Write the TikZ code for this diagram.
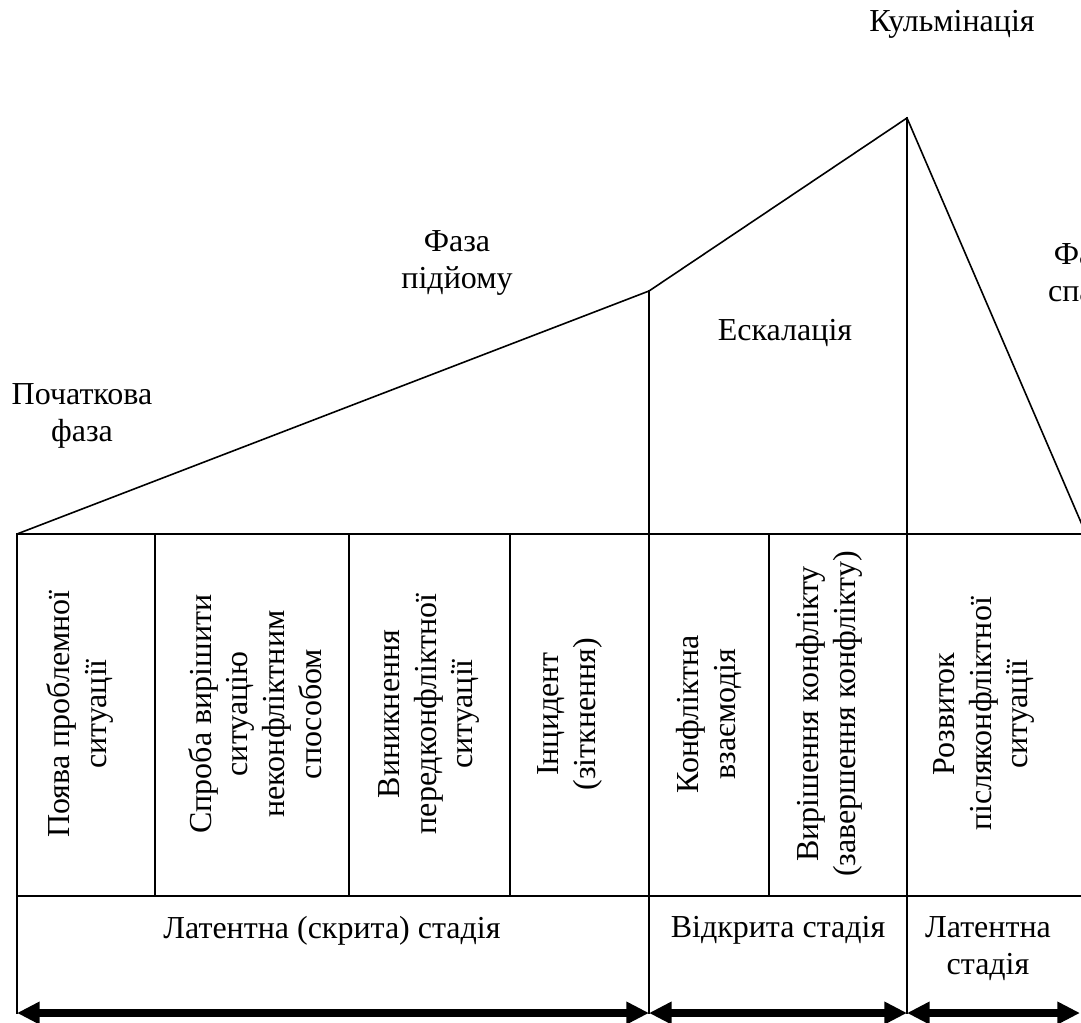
\documentclass[tikz,border=0pt]{standalone}
\usepackage{fontspec}
\setmainfont{Liberation Serif}
\usetikzlibrary{arrows.meta}
\begin{document}
\begin{tikzpicture}[x=0.75pt,y=-0.75pt,
  ln/.style={line width=1.4pt, line cap=rect},
  sl/.style={line width=1.2pt},
  lbl/.style={font=\fontsize{24}{27.6}\selectfont, align=center, inner sep=0pt},
  vlbl/.style={lbl, rotate=90},
  bigarrow/.style={line width=6.5pt, {Triangle[length=17pt,width=16pt]}-{Triangle[length=17pt,width=16pt]}}]
\useasboundingbox (0,0) rectangle (1081,1023);
\clip (0,0) rectangle (1081,1023);
% key points
\coordinate (A) at (17,534);
\coordinate (B) at (649,291);
\coordinate (C) at (907,118);
\coordinate (D) at (1086,534);
\coordinate (TR) at (1100,534);
\coordinate (SL) at (17,896);
\coordinate (SR) at (1100,896);
\coordinate (AL) at (17,1013);
\coordinate (AB) at (649,1013);
\coordinate (AC) at (907,1013);
\coordinate (AR) at (1080,1013);
% profile
\draw[sl] (A) -- (B) -- (C) -- (D);
% table
\draw[ln] (A) -- (TR);
\draw[ln] (SL) -- (SR);
\draw[ln] (A) -- (AL);
\draw[ln] (B) -- (AB);
\draw[ln] (C) -- (AC);
\foreach \x/\n in {155/v1,349/v2,510/v3,769/v4}{
  \coordinate (\n t) at (\x,534);
  \coordinate (\n b) at (\x,896);
  \draw[ln] (\n t) -- (\n b);
}
% arrows
\draw[bigarrow] (AL) -- (AB);
\draw[bigarrow] (AB) -- (AC);
\draw[bigarrow] (AC) -- (AR);
% top labels
\node[lbl] (kulm) at (952,24) {Кульмінація};
\node[lbl] (pidy) at (457,263) {Фаза\\підйому};
\node[lbl] (eskal) at (785,333) {Ескалація};
\node[lbl] (poch) at (82,416) {Початкова\\фаза};
\node[lbl] (spad) at (1087,276) {Фаза\\спаду};
% column labels
\node[vlbl] (c1) at (80,714) {Поява проблемної\\ситуації};
\node[vlbl] (c2) at (255,714) {Спроба вирішити\\ситуацію\\неконфліктним\\способом};
\node[vlbl] (c3) at (429,714) {Виникнення\\передконфліктної\\ситуації};
\node[vlbl] (c4) at (570,714) {Інцидент\\(зіткнення)};
\node[vlbl] (c5) at (709,714) {Конфліктна\\взаємодія};
\node[vlbl] (c6) at (829,714) {Вирішення конфлікту\\(завершення конфлікту)};
\node[vlbl] (c7) at (984,714) {Розвиток\\післяконфліктної\\ситуації};
% stage labels
\node[lbl, anchor=north] (s1) at (332,916) {Латентна (скрита) стадія};
\node[lbl, anchor=north] (s2) at (778,916) {Відкрита стадія};
\node[lbl, anchor=north] (s3) at (988,916) {Латентна\\стадія};
\end{tikzpicture}
\end{document}
